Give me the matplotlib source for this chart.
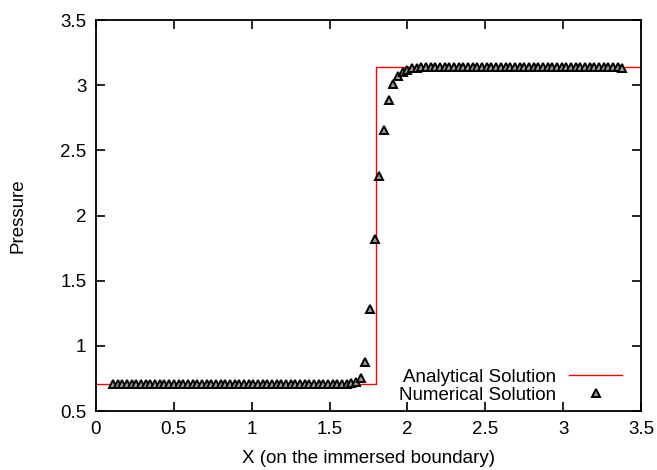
import numpy as np
import matplotlib
matplotlib.use("Agg")
import matplotlib.pyplot as plt

plt.rcParams['font.family'] = ['Liberation Sans', 'DejaVu Sans']

# analytical solution: step at x = 1.8
x_exact = [0.0, 1.8, 3.5]
p_exact = [0.707, 3.1416, 3.1416]

# numerical solution sampled along the immersed boundary
x_num = np.arange(110) * 0.03 + 0.11
p_num = ([0.71] * 51
         + [0.712, 0.72, 0.75, 0.875, 1.28, 1.82, 2.30, 2.66, 2.89, 3.01,
            3.07, 3.10, 3.12, 3.13, 3.135]
         + [3.14] * 43
         + [3.135])

fig = plt.figure(figsize=(6.57, 4.70), dpi=100)
ax = fig.add_axes([0.1461, 0.1255, 0.8295, 0.8319])

ax.plot(x_exact, p_exact, color='#ff0000', lw=1.0, drawstyle='steps-post',
        label='Analytical Solution', zorder=2)
ax.plot(x_num, p_num, ls='none', marker='^', ms=6, mfc='0.6', mec='black',
        mew=1.4, label='Numerical Solution', zorder=3)

ax.set_xlim(0, 3.5)
ax.set_ylim(0.5, 3.5)
ax.set_xticks(np.arange(0, 3.51, 0.5))
ax.set_yticks(np.arange(0.5, 3.51, 0.5))
ax.set_xticklabels(['0', '0.5', '1', '1.5', '2', '2.5', '3', '3.5'])
ax.set_yticklabels(['0.5', '1', '1.5', '2', '2.5', '3', '3.5'])
ax.tick_params(direction='in', length=6.5, width=1.2, top=True, right=True,
               labelsize=13.5, pad=7)
for s in ax.spines.values():
    s.set_linewidth(1.3)

ax.set_xlabel('X (on the immersed boundary)', fontsize=13.5, labelpad=9)
ax.set_ylabel('Pressure', fontsize=13.5, labelpad=24)

ax.legend(loc='lower right', bbox_to_anchor=(0.965, 0.018), frameon=False,
          markerfirst=False, fontsize=13.5, handlelength=2.8, labelspacing=0.05,
          borderpad=0, borderaxespad=0, handletextpad=0.7)

fig.savefig('out.png', dpi=100)
